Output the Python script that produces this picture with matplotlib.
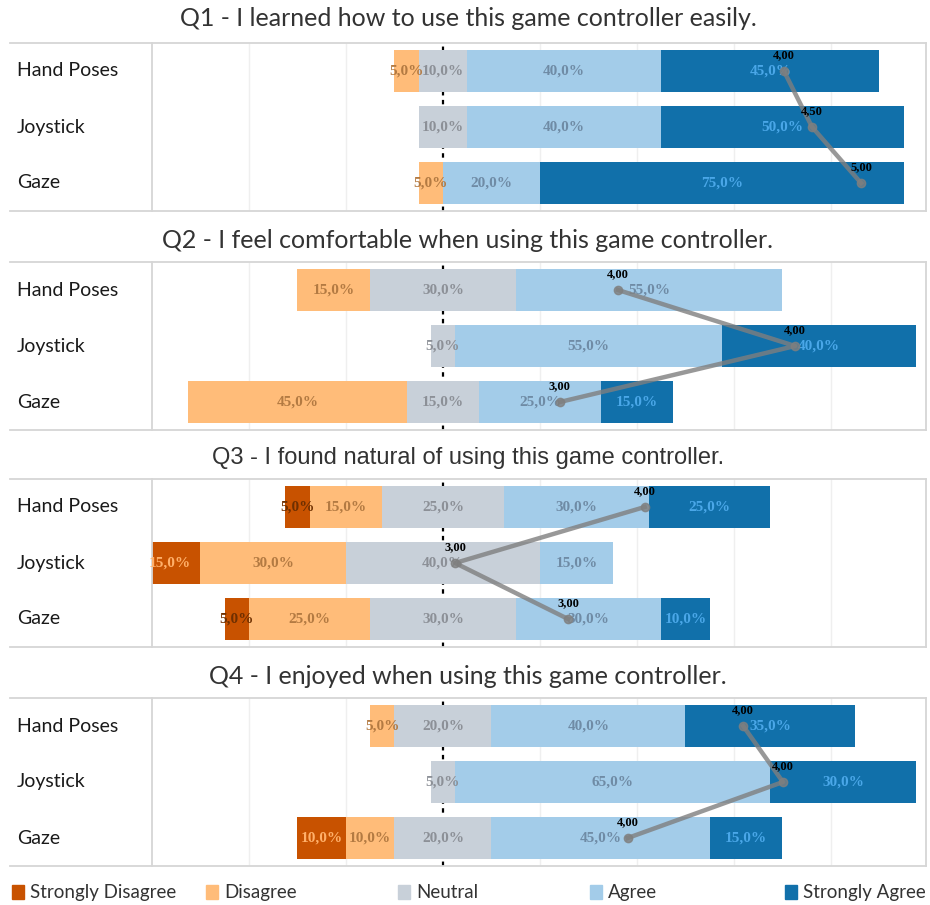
import matplotlib.pyplot as plt
from matplotlib.patches import Rectangle
from matplotlib.lines import Line2D

# survey data, percent of answers per device (Hand Poses, Joystick, Gaze)
titles = ['Q1 - I learned how to use this game controller easily.',
          'Q2 - I feel comfortable when using this game controller.',
          'Q3 - I found natural of using this game controller.',
          'Q4 - I enjoyed when using this game controller.']
devices = ['Hand Poses', 'Joystick', 'Gaze']
levels = ['Strongly Disagree', 'Disagree', 'Neutral', 'Agree', 'Strongly Agree']

q1_sd = [0, 0, 0]
q1_d = [5, 0, 5]
q1_n = [10, 10, 0]
q1_a = [40, 40, 20]
q1_sa = [45, 50, 75]

q2_sd = [0, 0, 0]
q2_d = [15, 0, 45]
q2_n = [30, 5, 15]
q2_a = [55, 55, 25]
q2_sa = [0, 40, 15]

q3_sd = [5, 15, 5]
q3_d = [15, 30, 25]
q3_n = [25, 40, 30]
q3_a = [30, 15, 30]
q3_sa = [25, 0, 10]

q4_sd = [0, 0, 10]
q4_d = [5, 0, 10]
q4_n = [20, 5, 20]
q4_a = [40, 65, 45]
q4_sa = [35, 30, 15]

# mean score labels and where the mean marks sit on the percent axis
q1_mean = [4.00, 4.50, 5.00]
q1_mean_pos = [70.3, 76.1, 86.2]
q2_mean = [4.00, 4.00, 3.00]
q2_mean_pos = [36.1, 72.6, 24.1]
q3_mean = [4.00, 3.00, 3.00]
q3_mean_pos = [41.6, 2.5, 25.8]
q4_mean = [4.00, 4.00, 4.00]
q4_mean_pos = [61.9, 70.1, 38.1]

panels = [
    (q1_sd, q1_d, q1_n, q1_a, q1_sa, q1_mean, q1_mean_pos),
    (q2_sd, q2_d, q2_n, q2_a, q2_sa, q2_mean, q2_mean_pos),
    (q3_sd, q3_d, q3_n, q3_a, q3_sa, q3_mean, q3_mean_pos),
    (q4_sd, q4_d, q4_n, q4_a, q4_sa, q4_mean, q4_mean_pos),
]

colors = ['#c85200', '#ffbc79', '#c8d0d9', '#a3cce9', '#1170aa']
label_colors = ['#ffb06a', '#b37a42', '#8c9097', '#6f8ba5', '#4aa7e8']

W, H = 930, 905
fig = plt.figure(figsize=(W / 100, H / 100), dpi=100)

panel_tops = [43, 262, 479, 698]
panel_h = 168
title_y = [18, 240, 458, 676]
ax_left, ax_right = 152, 926
title_fonts = [('Lato', 18), ('Lato', 18), ('Liberation Sans', 17), ('Lato', 18)]

def fmt_pct(v):
    return f'{v:.1f}'.replace('.', ',') + '%'

for p, (sd, d, n, a, sa, mean, mean_pos) in enumerate(panels):
    top = panel_tops[p]
    ax = fig.add_axes([ax_left / W, 1 - (top + panel_h) / H,
                       (ax_right - ax_left) / W, panel_h / H])
    ax.set_xlim(-60, 99.6)
    ax.set_ylim(2.5, -0.5)
    ax.set_xticks([])
    ax.set_yticks([])
    for s in ax.spines.values():
        s.set_color('#d6d6d6')
        s.set_linewidth(1.3)
    for g in [-40, -20, 20, 40, 60, 80]:
        ax.axvline(g, color='#efefef', lw=1, zorder=0)
    ax.axvline(0, color='black', lw=1.6, ls=(0, (2, 2)), zorder=0.5)

    values = [sd, d, n, a, sa]
    for i in range(len(devices)):
        left = -(sd[i] + d[i] + n[i] / 2)
        for k in range(5):
            v = values[k][i]
            if v == 0:
                continue
            ax.barh(i, v, left=left, height=0.75, color=colors[k], zorder=2)
            lc = label_colors[k]
            if k == 0 and v < 10:
                lc = '#6e2f00'
            cx = max(left + v / 2, -60 + v / 4) if left < -60 else left + v / 2
            ax.text(cx, i, fmt_pct(v), ha='center', va='center',
                    fontsize=11, fontweight='bold', color=lc,
                    family='Liberation Serif', zorder=3)
            left += v

    ax.plot(mean_pos, range(len(devices)), color='#7f7f7f', alpha=0.8,
            lw=3.2, marker='o', ms=6, zorder=4)
    for i in range(len(devices)):
        ax.text(mean_pos[i], i - 0.17, f'{mean[i]:.2f}'.replace('.', ','),
                ha='center', va='bottom', fontsize=9, fontweight='bold',
                color='black', family='Liberation Serif', zorder=5)

    # row headers
    for i, dev in enumerate(devices):
        fig.text(17 / W, 1 - (top + 28 + 56 * i) / H, dev, ha='left',
                 va='center', fontsize=14, family='Lato', color='#1a1a1a')
    for yy in (top, top + panel_h):
        fig.add_artist(Line2D([10 / W, ax_left / W], [1 - yy / H, 1 - yy / H],
                              color='#d6d6d6', lw=1.3))
    fname, fsize = title_fonts[p]
    fig.text((10 + 926) / 2 / W, 1 - title_y[p] / H, titles[p], ha='center',
             va='center', fontsize=fsize, family=fname, color='#333333')

# legend
leg_sq = [12, 206, 398, 590, 785]
for k, lab in enumerate(levels):
    fig.add_artist(Rectangle((leg_sq[k] / W, 1 - 899 / H), 12 / W, 14 / H,
                             color=colors[k], transform=fig.transFigure))
    fig.text((leg_sq[k] + 18) / W, 1 - 892 / H, lab, ha='left', va='center',
             fontsize=13.5, family='Lato', color='#333333')

fig.savefig('out.png', dpi=100)
